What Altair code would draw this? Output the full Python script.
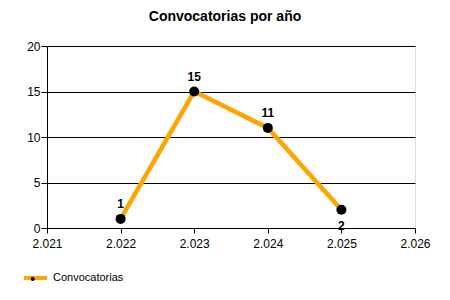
import altair as alt
import pandas as pd

# ---- data ----
years = [2022, 2023, 2024, 2025]
counts = [1, 15, 11, 2]
x_ticks = [2021, 2022, 2023, 2024, 2025, 2026]
y_ticks = [0, 5, 10, 15, 20]
series_name = "Convocatorias"
title_text = "Convocatorias por año"

df = pd.DataFrame({"anio": years, "valor": counts, "serie": [series_name] * len(years)})

FONT = "Liberation Sans"
ORANGE = "#FFA500"

x = alt.X(
    "anio:Q",
    scale=alt.Scale(domain=[2021, 2026], nice=False, zero=False),
    axis=alt.Axis(
        values=x_ticks,
        labelExpr="replace(format(datum.value, ','), ',', '.')",
        title=None, grid=False,
        domainColor="black", tickColor="black", tickSize=5,
        labelColor="black", labelFontSize=12, labelFont=FONT,
        labelPadding=5, labelFlush=False, zindex=1,
    ),
)
y = alt.Y(
    "valor:Q",
    scale=alt.Scale(domain=[0, 20], nice=False),
    axis=alt.Axis(
        values=y_ticks, title=None, grid=True,
        gridColor="black", gridOpacity=1, gridWidth=1,
        domainColor="black", tickColor="black", tickSize=6,
        labelColor="black", labelFontSize=12, labelFont=FONT,
        labelPadding=1,
    ),
)

base = alt.Chart(df)

line = base.mark_line(strokeWidth=4.5).encode(
    x=x, y=y,
    color=alt.Color(
        "serie:N",
        scale=alt.Scale(range=[ORANGE]),
        legend=alt.Legend(
            orient="none", legendX=-25, legendY=218.5, title=None,
            symbolType="stroke", symbolSize=529, symbolStrokeWidth=4,
            labelFont=FONT, labelFontSize=11, labelColor="black",
            labelOffset=4, padding=0,
        ),
    ),
)

points = base.transform_calculate(dot="' '").mark_circle(size=100, opacity=1).encode(
    x=x, y=y,
    fill=alt.Fill(
        "dot:N",
        scale=alt.Scale(range=["black"]),
        legend=alt.Legend(
            orient="none", legendX=-16.3, legendY=231, title=None,
            symbolType="circle", symbolSize=16, symbolStrokeWidth=0,
            labelFontSize=1, labelOpacity=0, padding=0,
        ),
    ),
)

labels_above = base.transform_filter("datum.anio < 2025").mark_text(
    font=FONT, fontSize=12, fontWeight="bold", color="black",
    baseline="alphabetic", dy=-11,
).encode(x=x, y=y, text="valor:Q")

labels_below = base.transform_filter("datum.anio == 2025").mark_text(
    font=FONT, fontSize=12, fontWeight="bold", color="black",
    baseline="alphabetic", dy=20,
).encode(x=x, y=y, text="valor:Q")

chart = alt.layer(line, points, labels_above, labels_below).properties(
    width=368,
    height=182,
    autosize=alt.AutoSizeParams(type="none"),
    padding={"left": 47, "top": 46, "right": 35, "bottom": 72},
    title=alt.TitleParams(
        title_text, font=FONT, fontSize=14, fontWeight="bold",
        color="black", anchor="middle", offset=16, dx=-6,
    ),
).configure_view(stroke=None).configure(background="white")

chart.save("out.html", embed_options={"renderer": "svg", "actions": False})
